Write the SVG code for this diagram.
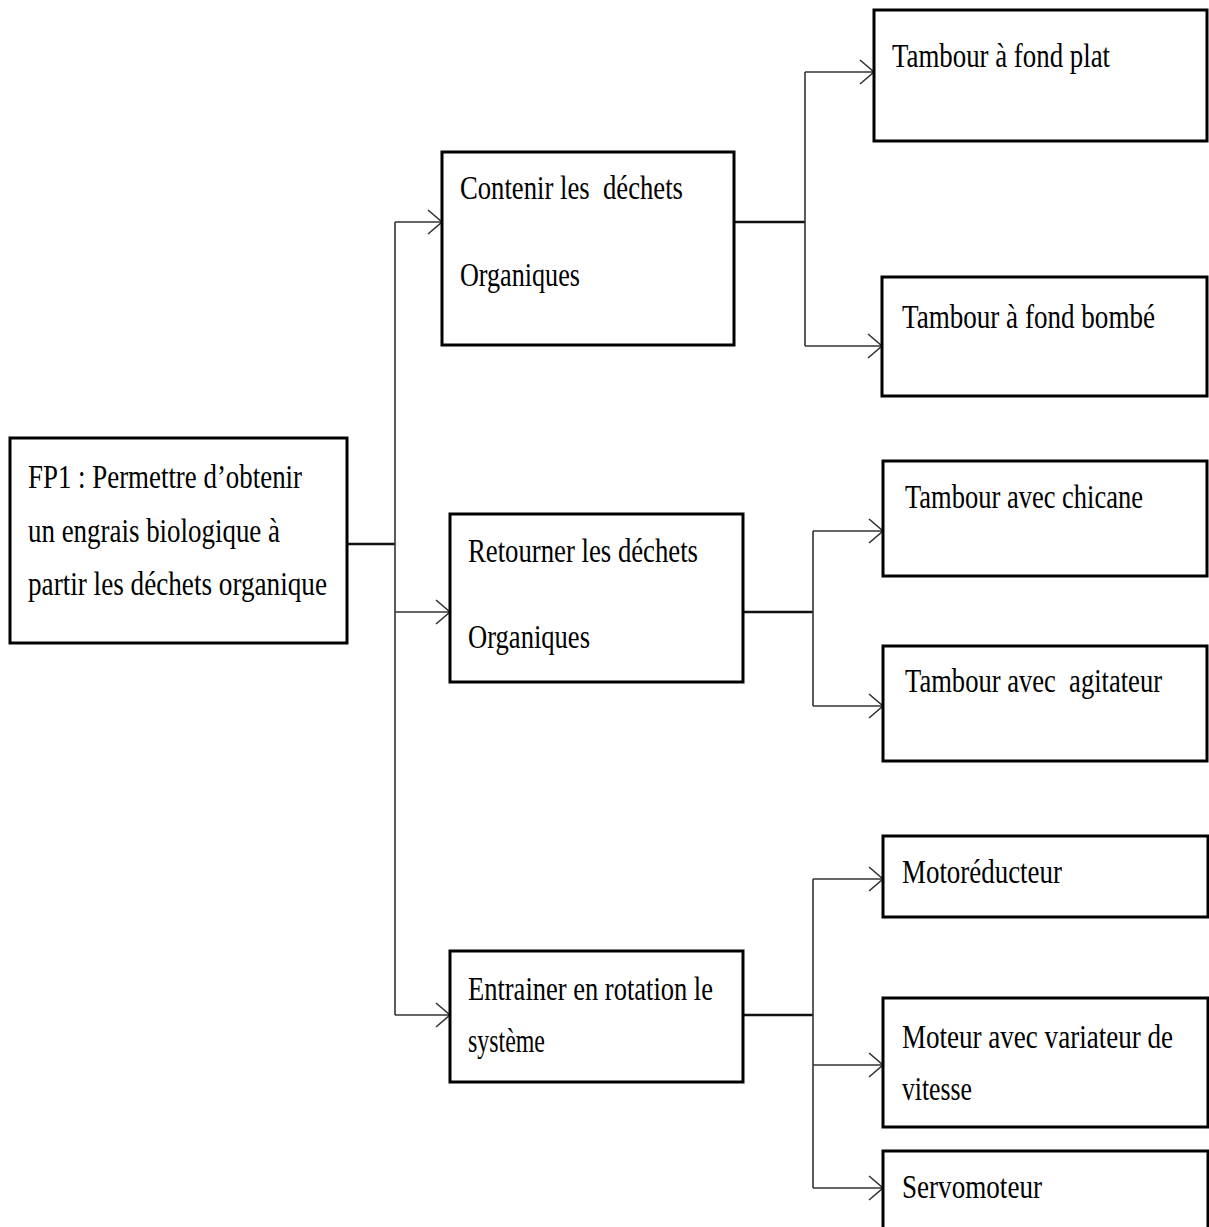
<svg xmlns="http://www.w3.org/2000/svg" width="1209" height="1227" viewBox="0 0 1209 1227">
<style>
.box{fill:#fff;stroke:#000;stroke-width:3}
.t{font-family:"Liberation Serif","Times New Roman",serif;font-size:34px;fill:#000;white-space:pre}
.c{fill:none;stroke:#333;stroke-width:1.6}
.c2{fill:none;stroke:#111;stroke-width:2.4}
</style>
<defs>
<marker id="arr" markerUnits="userSpaceOnUse" markerWidth="20" markerHeight="30" refX="16" refY="13" orient="auto" overflow="visible">
<path d="M2,1 L16,13 L2,25" fill="none" stroke="#333" stroke-width="1.6"/>
</marker>
</defs>
<rect width="1209" height="1227" fill="#fff"/>
<g id="connectors">
<path class="c2" d="M346,544 H395"/>
<path class="c" d="M395,222 V1015"/>
<path class="c" d="M395,222 H442" marker-end="url(#arr)"/>
<path class="c" d="M395,612 H450" marker-end="url(#arr)"/>
<path class="c" d="M395,1015 H450" marker-end="url(#arr)"/>
<path class="c2" d="M734,222 H805"/>
<path class="c" d="M805,72 V346"/>
<path class="c" d="M805,72 H874" marker-end="url(#arr)"/>
<path class="c" d="M805,346 H882" marker-end="url(#arr)"/>
<path class="c2" d="M743,612 H813"/>
<path class="c" d="M813,531 V706"/>
<path class="c" d="M813,531 H883" marker-end="url(#arr)"/>
<path class="c" d="M813,706 H883" marker-end="url(#arr)"/>
<path class="c2" d="M743,1015 H813"/>
<path class="c" d="M813,879 V1188"/>
<path class="c" d="M813,879 H883" marker-end="url(#arr)"/>
<path class="c" d="M813,1065 H883" marker-end="url(#arr)"/>
<path class="c" d="M813,1188 H883" marker-end="url(#arr)"/>
</g>
<g id="fp1">
<rect class="box" x="10" y="438" width="337" height="205"/>
<text class="t" transform="scale(0.78,1)" x="35.9" y="488" textLength="351.3" lengthAdjust="spacingAndGlyphs">FP1 : Permettre d’obtenir</text>
<text class="t" transform="scale(0.78,1)" x="35.9" y="542" textLength="323.1" lengthAdjust="spacingAndGlyphs">un engrais biologique à</text>
<text class="t" transform="scale(0.78,1)" x="35.9" y="595" textLength="383.3" lengthAdjust="spacingAndGlyphs">partir les déchets organique</text>
</g>
<g id="contenir">
<rect class="box" x="442" y="152" width="292" height="193"/>
<text class="t" transform="scale(0.78,1)" x="589.7" y="199" textLength="285.9" lengthAdjust="spacingAndGlyphs">Contenir les  déchets</text>
<text class="t" transform="scale(0.78,1)" x="589.7" y="286" textLength="153.8" lengthAdjust="spacingAndGlyphs">Organiques</text>
</g>
<g id="retourner">
<rect class="box" x="450" y="514" width="293" height="168"/>
<text class="t" transform="scale(0.78,1)" x="600" y="562" textLength="294.9" lengthAdjust="spacingAndGlyphs">Retourner les déchets</text>
<text class="t" transform="scale(0.78,1)" x="600" y="648" textLength="156.4" lengthAdjust="spacingAndGlyphs">Organiques</text>
</g>
<g id="entrainer">
<rect class="box" x="450" y="951" width="293" height="131"/>
<text class="t" transform="scale(0.78,1)" x="600" y="1000" textLength="314.1" lengthAdjust="spacingAndGlyphs">Entrainer en rotation le</text>
<text class="t" transform="scale(0.78,1)" x="600" y="1052" textLength="98.7" lengthAdjust="spacingAndGlyphs">système</text>
</g>
<g id="fond-plat">
<rect class="box" x="874" y="10" width="333" height="131"/>
<text class="t" transform="scale(0.78,1)" x="1143.6" y="67" textLength="279.5" lengthAdjust="spacingAndGlyphs">Tambour à fond plat</text>
</g>
<g id="fond-bombe">
<rect class="box" x="882" y="277" width="325" height="119"/>
<text class="t" transform="scale(0.78,1)" x="1156.4" y="328" textLength="324.4" lengthAdjust="spacingAndGlyphs">Tambour à fond bombé</text>
</g>
<g id="chicane">
<rect class="box" x="883" y="461" width="324" height="115"/>
<text class="t" transform="scale(0.78,1)" x="1160.3" y="508" textLength="305.1" lengthAdjust="spacingAndGlyphs">Tambour avec chicane</text>
</g>
<g id="agitateur">
<rect class="box" x="883" y="646" width="324" height="115"/>
<text class="t" transform="scale(0.78,1)" x="1160.3" y="692" textLength="329.5" lengthAdjust="spacingAndGlyphs">Tambour avec  agitateur</text>
</g>
<g id="motoreducteur">
<rect class="box" x="883" y="836" width="325" height="81"/>
<text class="t" transform="scale(0.78,1)" x="1156.4" y="883" textLength="205.1" lengthAdjust="spacingAndGlyphs">Motoréducteur</text>
</g>
<g id="moteur-variateur">
<rect class="box" x="883" y="998" width="325" height="129"/>
<text class="t" transform="scale(0.78,1)" x="1156.4" y="1048" textLength="347.4" lengthAdjust="spacingAndGlyphs">Moteur avec variateur de</text>
<text class="t" transform="scale(0.78,1)" x="1156.4" y="1100" textLength="89.7" lengthAdjust="spacingAndGlyphs">vitesse</text>
</g>
<g id="servomoteur">
<rect class="box" x="883" y="1151" width="325" height="100"/>
<text class="t" transform="scale(0.78,1)" x="1156.4" y="1198" textLength="179.5" lengthAdjust="spacingAndGlyphs">Servomoteur</text>
</g>
</svg>
